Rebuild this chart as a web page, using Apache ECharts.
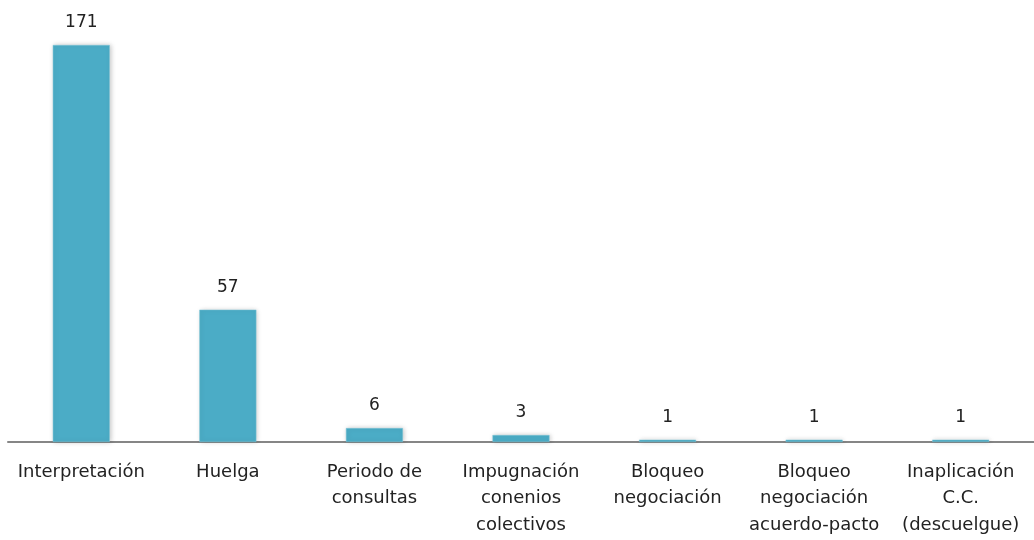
<!DOCTYPE html>
<html><head><meta charset="utf-8">
<script src="https://cdn.jsdelivr.net/npm/echarts@6/dist/echarts.min.js"></script>
<style>html,body{margin:0;padding:0;background:#fff}#c{width:1034px;height:540px}</style>
</head><body><div id="c"></div>
<script>
var categories = ["Interpretación", "Huelga", "Periodo de\nconsultas", "Impugnación\nconenios\ncolectivos", "Bloqueo\nnegociación", "Bloqueo\nnegociación\nacuerdo-pacto", "Inaplicación\nC.C.\n(descuelgue)"];
var values = [171, 57, 6, 3, 1, 1, 1];

var chart = echarts.init(document.getElementById('c'), null, {renderer: 'canvas'});
chart.setOption({
  animation: false,
  grid: {left: 8, right: -5, top: 45, bottom: 98, containLabel: false},
  xAxis: {
    type: 'category', data: categories,
    axisLine: {lineStyle: {color: '#868686', width: 2}},
    axisTick: {show: false},
    axisLabel: {interval: 0, color: '#222', fontFamily: 'DejaVu Sans', fontSize: 18, lineHeight: 26.5, margin: 17}
  },
  yAxis: {type: 'value', min: 0, max: 171, show: false, splitLine: {show: false}},
  series: [{
    type: 'bar', data: values, barWidth: 57,
    itemStyle: {color: '#4BACC6', borderColor: '#7fc6d8', borderWidth: 0.5, shadowBlur: 5, shadowColor: 'rgba(0,0,0,0.22)', shadowOffsetX: 1, shadowOffsetY: 0},
    label: {show: true, position: 'top', distance: 14, color: '#222', fontFamily: 'DejaVu Sans', fontSize: 17}
  }]
});
</script></body></html>
